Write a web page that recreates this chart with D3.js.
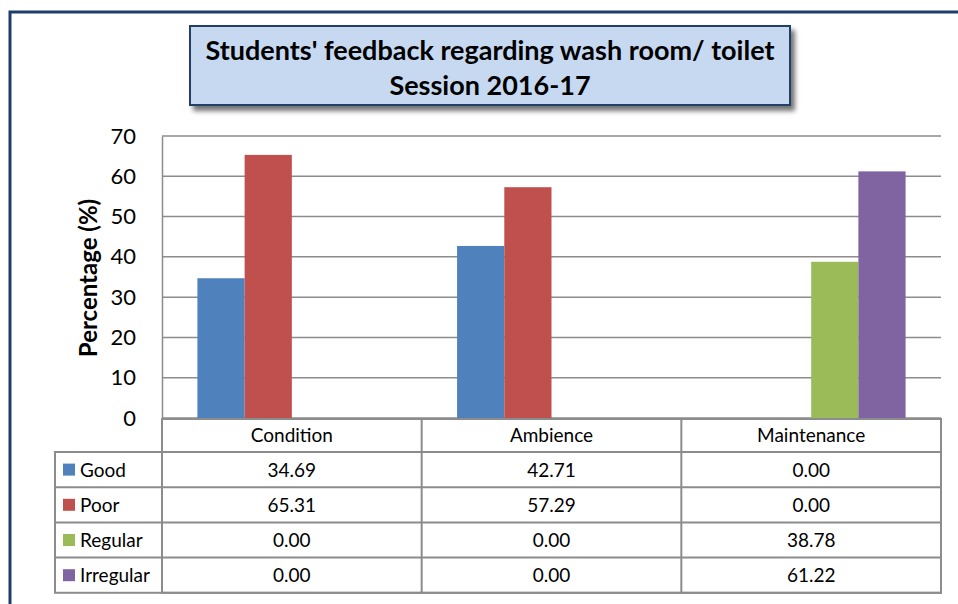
<!DOCTYPE html>
<html>
<head>
<meta charset="utf-8">
<script src="https://cdn.jsdelivr.net/npm/d3@7/dist/d3.min.js"></script>
<style>
  body { margin: 0; background: #fff; }
  svg { display: block; font-family: Lato, "Open Sans", sans-serif; }
</style>
</head>
<body>
<svg class="chart" width="958" height="604"></svg>
<script>
// chart data
var categories = ["Condition", "Ambience", "Maintenance"];
var seriesNames = ["Good", "Poor", "Regular", "Irregular"];
var seriesColors = ["#4f81bd", "#c0504d", "#9bbb59", "#8064a2"];
var goodValues = [34.69, 42.71, 0.00];
var poorValues = [65.31, 57.29, 0.00];
var regularValues = [0.00, 0.00, 38.78];
var irregularValues = [0.00, 0.00, 61.22];
var yTicks = [0, 10, 20, 30, 40, 50, 60, 70];
var titleLines = ["Students' feedback regarding wash room/ toilet", "Session 2016-17"];

var seriesValues = [goodValues, poorValues, regularValues, irregularValues];

window.onload = function () {
    var svg = d3.select("svg.chart");

    var plotLeft = 162, plotRight = 941, plotTop = 136, plotBottom = 418;
    var headerBottom = 452, rowH = 35.2, legendLeft = 55;

    // outer frame (left and top only show)
    svg.append("path")
        .attr("d", "M10,604 V12 H958")
        .attr("fill", "none")
        .attr("stroke", "#1f3d6b")
        .attr("stroke-width", 3);

    var defs = svg.append("defs");
    var f = defs.append("filter").attr("id", "shadow")
        .attr("x", "-10%").attr("y", "-20%").attr("width", "125%").attr("height", "160%");
    f.append("feGaussianBlur").attr("in", "SourceAlpha").attr("stdDeviation", 2.5);
    f.append("feOffset").attr("dx", 4).attr("dy", 5).attr("result", "blur");
    f.append("feComponentTransfer").append("feFuncA").attr("type", "linear").attr("slope", 0.55);
    var m = f.append("feMerge");
    m.append("feMergeNode");
    m.append("feMergeNode").attr("in", "SourceGraphic");

    // title box
    svg.append("rect")
        .attr("x", 190).attr("y", 26).attr("width", 600).attr("height", 79)
        .attr("fill", "#c6d9f1")
        .attr("stroke", "#243f66")
        .attr("stroke-width", 2)
        .attr("filter", "url(#shadow)");
    svg.selectAll("text.title").data(titleLines).enter()
        .append("text")
        .attr("class", "title")
        .attr("x", 490)
        .attr("y", function (d, i) { return 60 + i * 35; })
        .attr("text-anchor", "middle")
        .attr("font-size", 27)
        .attr("font-weight", "bold")
        .attr("fill", "#000")
        .text(function (d) { return d; });

    var x = d3.scaleBand().domain(categories).range([plotLeft, plotRight]);
    var y = d3.scaleLinear().domain([0, 70]).range([plotBottom, plotTop]);
    var barW = x.bandwidth() / 5.5;
    var xs = d3.scaleBand().domain(seriesNames)
        .range([0.75 * barW, 4.75 * barW]);

    // gridlines
    svg.append("g").selectAll("line").data(yTicks).enter()
        .append("line")
        .attr("x1", plotLeft).attr("x2", plotRight)
        .attr("y1", function (d) { return y(d); })
        .attr("y2", function (d) { return y(d); })
        .attr("stroke", "#8c8c8c")
        .attr("stroke-width", 1.5);

    // y axis
    var yAxis = svg.append("g")
        .attr("transform", "translate(" + plotLeft + ",0)")
        .call(d3.axisLeft(y).tickValues(yTicks).tickSize(0).tickPadding(26));
    yAxis.select(".domain").attr("stroke", "#8c8c8c").attr("stroke-width", 1.5);
    yAxis.selectAll("text").attr("font-size", 22).attr("font-family", "Lato, sans-serif").attr("fill", "#000");

    svg.append("text")
        .attr("transform", "translate(97,278) rotate(-90)")
        .attr("text-anchor", "middle")
        .attr("font-size", 24)
        .attr("font-weight", "bold")
        .text("Percentage (%)");

    // bars
    var groups = svg.append("g").selectAll("g").data(seriesNames).enter()
        .append("g")
        .attr("fill", function (d, i) { return seriesColors[i]; });
    groups.selectAll("rect")
        .data(function (s, i) {
            return seriesValues[i].map(function (v, j) { return { s: s, c: categories[j], v: v }; });
        })
        .enter().append("rect")
        .attr("x", function (d) { return x(d.c) + xs(d.s); })
        .attr("width", xs.bandwidth())
        .attr("y", function (d) { return y(d.v); })
        .attr("height", function (d) { return y(0) - y(d.v); });

    // data table
    var tbl = svg.append("g")
        .attr("stroke", "#8c8c8c")
        .attr("stroke-width", 2)
        .attr("fill", "none");
    var tableBottom = headerBottom + rowH * seriesNames.length;
    tbl.append("rect").attr("x", plotLeft).attr("y", plotBottom + 1)
        .attr("width", plotRight - plotLeft).attr("height", tableBottom - plotBottom - 1);
    tbl.append("rect").attr("x", legendLeft).attr("y", headerBottom)
        .attr("width", plotRight - legendLeft).attr("height", tableBottom - headerBottom);
    tbl.selectAll("line.col").data(categories.slice(1)).enter()
        .append("line")
        .attr("x1", function (d) { return x(d); }).attr("x2", function (d) { return x(d); })
        .attr("y1", plotBottom + 1).attr("y2", tableBottom);
    tbl.selectAll("line.row").data(seriesNames.slice(1)).enter()
        .append("line")
        .attr("x1", legendLeft).attr("x2", plotRight)
        .attr("y1", function (d, i) { return headerBottom + rowH * (i + 1); })
        .attr("y2", function (d, i) { return headerBottom + rowH * (i + 1); });

    svg.append("g").selectAll("text").data(categories).enter()
        .append("text")
        .attr("x", function (d) { return x(d) + x.bandwidth() / 2; })
        .attr("y", (plotBottom + headerBottom) / 2 + 7)
        .attr("text-anchor", "middle")
        .attr("font-size", 19)
        .text(function (d) { return d; });

    var rows = svg.append("g").selectAll("g").data(seriesNames).enter()
        .append("g")
        .attr("transform", function (d, i) { return "translate(0," + (headerBottom + rowH * i + rowH / 2) + ")"; });
    rows.append("rect")
        .attr("x", 63).attr("y", -6).attr("width", 12).attr("height", 12)
        .attr("fill", function (d, i) { return seriesColors[i]; });
    rows.append("text")
        .attr("x", 80).attr("y", 7)
        .attr("font-size", 19)
        .text(function (d) { return d; });
    rows.selectAll("text.val")
        .data(function (s, i) { return seriesValues[i].map(function (v, j) { return { c: categories[j], v: v }; }); })
        .enter().append("text")
        .attr("class", "val")
        .attr("x", function (d) { return x(d.c) + x.bandwidth() / 2; })
        .attr("y", 7)
        .attr("text-anchor", "middle")
        .attr("font-size", 19)
        .text(function (d) { return d.v.toFixed(2); });
};
</script>
</body>
</html>
